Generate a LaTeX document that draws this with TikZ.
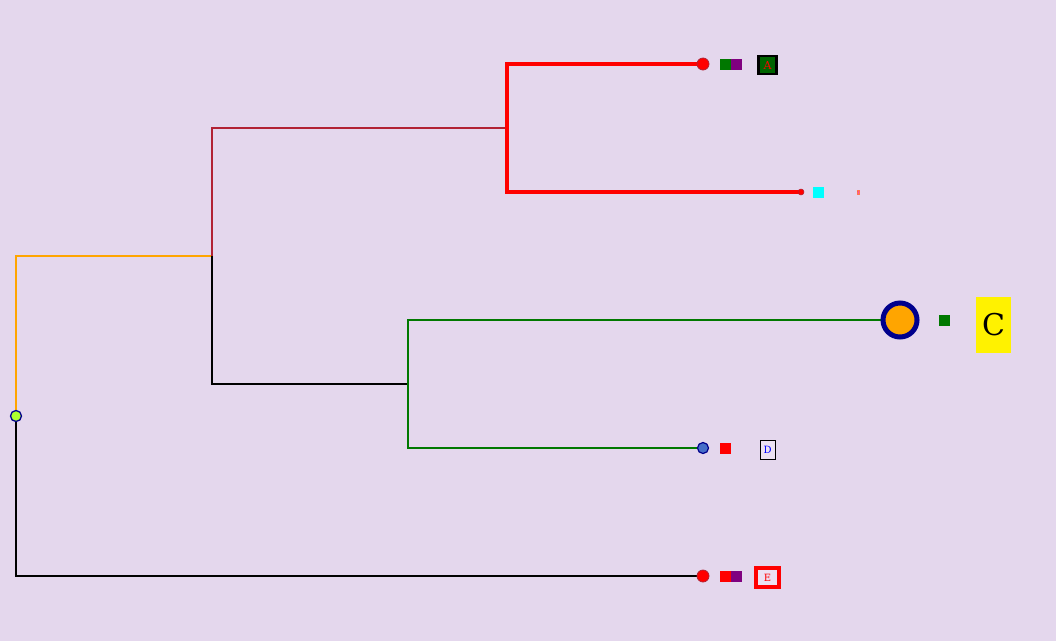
\documentclass[tikz,border=0pt]{standalone}
\usepackage{tikz}
\usepackage{fontspec}
\setmainfont{DejaVu Serif}
\definecolor{bg}{RGB}{228,215,237}
\definecolor{brn}{RGB}{178,34,52}
\definecolor{grn}{RGB}{0,120,0}
\definecolor{dgrn}{RGB}{0,100,0}
\definecolor{purp}{RGB}{128,0,128}
\definecolor{orng}{RGB}{255,165,0}
\definecolor{navy}{RGB}{0,0,140}
\definecolor{lfill}{RGB}{236,226,242}
\definecolor{cyn}{RGB}{0,255,255}
\definecolor{lime}{RGB}{173,255,47}
\definecolor{steel}{RGB}{70,110,200}
\tikzset{
  sq/.style={rectangle, minimum size=11pt, inner sep=0pt, draw=none},
  dot/.style={circle, inner sep=0pt},
  bigleaf/.style={dot, minimum size=12pt, fill=red, draw=brn, line width=0.8pt},
}
\begin{document}
\begin{tikzpicture}[x=1pt,y=-1pt]
\fill[bg] (0,0) rectangle (1056,641);
\useasboundingbox (0,0) rectangle (1056,641);
% internal nodes
\coordinate (r) at (16,416);
\coordinate (n1) at (212,256);
\coordinate (n2) at (507,128);
\coordinate (n3) at (408,384);
% leaf positions
\coordinate (la) at (703,64);
\coordinate (lb) at (801,192);
\coordinate (lc) at (900,320);
\coordinate (ld) at (703,448);
\coordinate (le) at (703,576);
% edges
\draw[orng, line width=2pt] (r) |- (n1);
\draw[black, line width=2pt] (r) |- (le);
\draw[brn, line width=2.5pt] (n1) |- (n2);
\draw[black, line width=2pt] (n1) |- (n3);
\draw[red, line width=4pt] (n2) |- (la);
\draw[red, line width=4pt] (n2) |- (lb);
\draw[grn, line width=2pt] (n3) |- (lc);
\draw[grn, line width=2pt] (n3) |- (ld);
% node markers
\node[dot, minimum size=11pt, fill=lime, draw=navy, line width=1.3pt] (rm) at (r) {};
\node[bigleaf] (ma) at (la) {};
\node[dot, minimum size=6pt, fill=red, draw=brn, line width=0.5pt] (mb) at (lb) {};
\node[dot, minimum size=34pt, fill=orng, draw=navy, line width=5pt] (mc) at (lc) {};
\node[dot, minimum size=11pt, fill=steel, draw=navy, line width=1.2pt] (md) at (ld) {};
\node[bigleaf] (me) at (le) {};
% squares
\node[sq, fill=grn] (sa1) at (725.5,64) {};
\node[sq, fill=purp] (sa2) at (736.5,64) {};
\node[sq, fill=cyn] (sb1) at (818.5,192) {};
\node[sq, fill=grn] (sc1) at (944.5,320) {};
\node[sq, fill=red] (sd1) at (725.5,448) {};
\node[sq, fill=red] (se1) at (725.5,576) {};
\node[sq, fill=purp] (se2) at (736.5,576) {};
% labels
\node[draw=black, line width=2.5pt, fill=dgrn, text=red, minimum width=18pt, minimum height=18pt, inner sep=0pt, font=\fontsize{11}{11}\selectfont] (ta) at (767.5,65) {A};
\node[draw={rgb,255:red,255;green,120;blue,80}, line width=0.4pt, fill={rgb,255:red,255;green,80;blue,160}, minimum width=2pt, minimum height=4pt, inner sep=0pt, text=red, font=\fontsize{1}{1}\selectfont] (tb) at (858,192) {B};
\node[fill=yellow, text=black, minimum width=35pt, minimum height=56pt, inner sep=0pt, font=\fontsize{30}{30}\selectfont] (tc) at (993.5,325) {C};
\node[draw=black, line width=1pt, fill=lfill, text=blue, minimum width=15pt, minimum height=19pt, inner sep=0pt, font=\fontsize{10}{10}\selectfont] (td) at (767.5,449.5) {D};
\node[draw=red, line width=3.5pt, fill=lfill, text=red, minimum width=23pt, minimum height=19pt, inner sep=0pt, font=\fontsize{10}{10}\selectfont] (te) at (767.5,577.5) {E};
\end{tikzpicture}
\end{document}
